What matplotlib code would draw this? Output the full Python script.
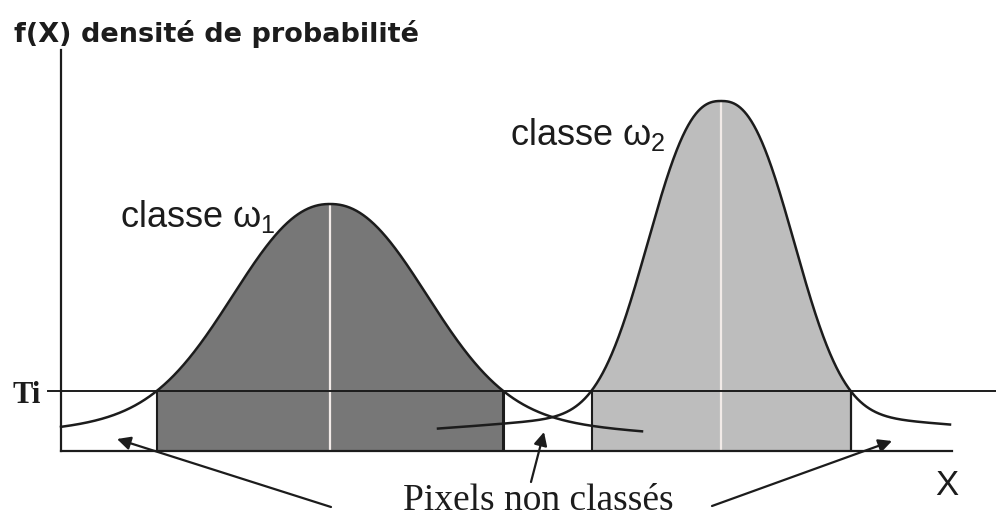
import numpy as np
import matplotlib
matplotlib.use('Agg')
import matplotlib.pyplot as plt

# two class densities (centre, body height/width/shape, tail height/spread)
classes = [r'classe $\omega_1$', r'classe $\omega_2$']
centres = [269, 660]
hauteurs_corps = [197, 310]
largeurs_corps = [126, 90]
formes_corps = [2.2, 2.5]
hauteurs_queue = [50, 40]
etalements_queue = [250, 320]
debut_courbe = [0, 377]
fin_courbe = [581, 889]
seuil_Ti = 60

couleurs_remplissage = ['#777777', '#bdbdbd']


def densite(x, mu, a, w, p, b, v):
    d = np.abs(x - mu)
    return a * np.exp(-(d / w) ** p) + b / (1 + (d / v) ** 2)


plt.rcParams['mathtext.fontset'] = 'custom'
plt.rcParams['mathtext.rm'] = 'Liberation Sans'
plt.rcParams['mathtext.it'] = 'Liberation Sans'

fig = plt.figure(figsize=(9.96, 5.19), dpi=100)
ax = fig.add_axes([61 / 996, 68 / 519, 891 / 996, 401 / 519])
ax.set_xlim(0, 891)
ax.set_ylim(0, 401)

ink = '#1c1c1c'

courbes = []
for i in range(2):
    x = np.linspace(debut_courbe[i], fin_courbe[i], 1200)
    h = densite(x, centres[i], hauteurs_corps[i], largeurs_corps[i], formes_corps[i],
                hauteurs_queue[i], etalements_queue[i])
    courbes.append((x, h))
    au_dessus = h >= seuil_Ti
    ax.fill_between(x, 0, h, where=au_dessus, interpolate=True,
                    color=couleurs_remplissage[i], lw=0, zorder=1)
    pic = densite(centres[i], centres[i], hauteurs_corps[i], largeurs_corps[i], formes_corps[i],
                  hauteurs_queue[i], etalements_queue[i])
    ax.vlines(centres[i], 0, pic, color='#f2ebe8', lw=1.6, zorder=2)
    idx = np.where(au_dessus)[0]
    xa, xb = x[idx[0]], x[idx[-1]]
    ax.vlines(xa, 0, seuil_Ti, color=ink, lw=1.5, zorder=3)
    ax.vlines(xb, 0, seuil_Ti, color=ink, lw=2.2 if i == 0 else 1.6, zorder=3)

# seuil Ti
ax.plot([-13, 935], [seuil_Ti, seuil_Ti], color=ink, lw=1.4, clip_on=False, zorder=3)

for x, h in courbes:
    ax.plot(x, h, color=ink, lw=1.8, zorder=4, clip_on=False)

for s in ['top', 'right']:
    ax.spines[s].set_visible(False)
for s in ['left', 'bottom']:
    ax.spines[s].set_linewidth(1.6)
    ax.spines[s].set_color(ink)
    ax.spines[s].set_zorder(5)
ax.set_xticks([])
ax.set_yticks([])
ax.patch.set_alpha(0)

ax.text(-47, 409, 'f(X) densité de probabilité', fontsize=19.5, family='DejaVu Sans',
        weight='bold', color=ink, va='baseline', ha='left')
ax.text(59, 224, classes[0], fontsize=26, family='Liberation Sans', color=ink, va='baseline')
ax.text(449, 306, classes[1], fontsize=26, family='Liberation Sans', color=ink, va='baseline')
ax.text(-48, 48, 'Ti', fontsize=22, family='Liberation Serif', weight='bold', color=ink,
        va='baseline', ha='left')
ax.text(477, -59, 'Pixels non classés', fontsize=27, family='Liberation Serif', color=ink,
        va='baseline', ha='center')
ax.text(886, -44, 'X', fontsize=25, family='Liberation Sans', color=ink, va='baseline', ha='center')

fleches = [((270, -56), (56, 12)), ((470, -31), (483, 19)), ((651, -55), (831, 10))]
for depart, pointe in fleches:
    ax.annotate('', xy=pointe, xytext=depart, annotation_clip=False,
                arrowprops=dict(arrowstyle='-|>', color=ink, lw=1.6, mutation_scale=20,
                                shrinkA=0, shrinkB=0))

fig.savefig('out.png', dpi=100)
